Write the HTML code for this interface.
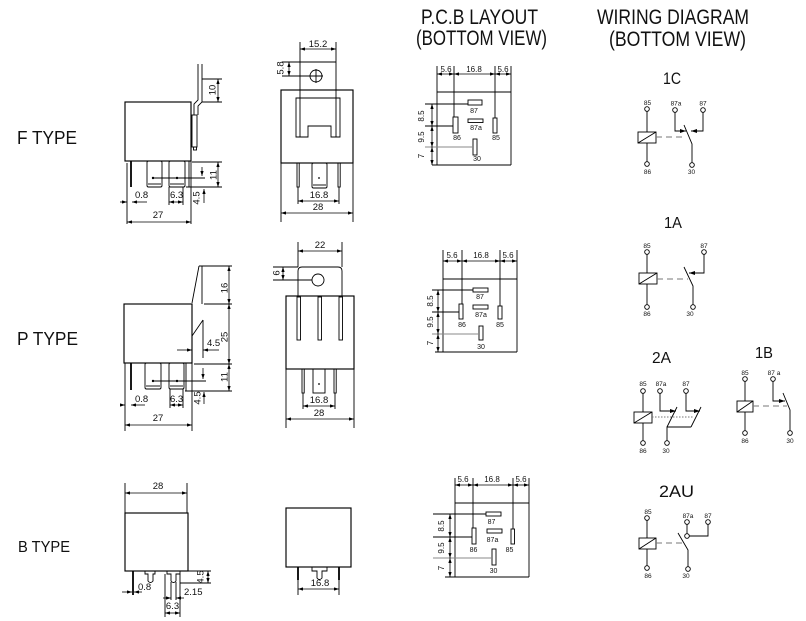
<!DOCTYPE html>
<html><head><meta charset="utf-8">
<style>
html,body{margin:0;padding:0;background:#fff}
svg{display:block}
text{font-family:"Liberation Sans",sans-serif;fill:#111}
.b{stroke:#000;stroke-width:1.15;fill:none}
.l{stroke:#000;stroke-width:.9;fill:none}
.g{stroke:#888;stroke-width:.9;fill:none}
.dm{stroke:#000;stroke-width:.8;fill:none;marker-start:url(#a);marker-end:url(#a)}
.de{stroke:#000;stroke-width:.8;fill:none;marker-end:url(#a)}
.we{stroke:#000;stroke-width:.9;fill:none;marker-end:url(#w)}
.ds{stroke:#777;stroke-width:1.1;fill:none;stroke-dasharray:6,4}
.tc{fill:#fff;stroke:#000;stroke-width:.9}
.s9{font-size:9.5px}
.s8{font-size:8px}
.s7{font-size:7px}
.s6{font-size:6.5px}
.m{text-anchor:middle}
</style></head>
<body>
<svg width="806" height="621" viewBox="0 0 806 621" xmlns="http://www.w3.org/2000/svg">
<defs>
<marker id="a" viewBox="0 0 6 4" refX="6" refY="2" markerWidth="5" markerHeight="3.4" orient="auto-start-reverse" markerUnits="userSpaceOnUse"><path d="M0,0L6,2L0,4z" fill="#000"/></marker>
<marker id="w" viewBox="0 0 6 4" refX="6" refY="2" markerWidth="6" markerHeight="4" orient="auto" markerUnits="userSpaceOnUse"><path d="M0,0L6,2L0,4z" fill="#000"/></marker>
</defs>

<!-- Titles -->
<text x="421" y="24" font-size="21" textLength="117" lengthAdjust="spacingAndGlyphs">P.C.B LAYOUT</text>
<text x="416" y="45" font-size="21" textLength="131" lengthAdjust="spacingAndGlyphs">(BOTTOM VIEW)</text>
<text x="597" y="24" font-size="21" textLength="152" lengthAdjust="spacingAndGlyphs">WIRING DIAGRAM</text>
<text x="609" y="46" font-size="21" textLength="137" lengthAdjust="spacingAndGlyphs">(BOTTOM VIEW)</text>

<!-- Type labels -->
<text x="17" y="144" font-size="18" textLength="60" lengthAdjust="spacingAndGlyphs">F TYPE</text>
<text x="17" y="345" font-size="18" textLength="61" lengthAdjust="spacingAndGlyphs">P TYPE</text>
<text x="18" y="552" font-size="16" textLength="52" lengthAdjust="spacingAndGlyphs">B TYPE</text>

<!-- ================= F TYPE SIDE ================= -->
<rect class="b" x="125" y="102" width="66" height="59"/>
<path class="l" d="M198,64 V100 L194,104 V115 M202,64 V102 L198,106 V115"/>
<rect class="l" x="192" y="115" width="5" height="32"/>
<rect class="l" x="193.5" y="147" width="3" height="3"/>
<path class="l" d="M202,79 H222 M202,102 H222"/>
<path class="dm" d="M218,79 V102"/>
<text class="s9 m" transform="translate(215.5,90) rotate(-90)">10</text>
<!-- pins -->
<path stroke="#000" stroke-width="1.8" d="M131,161 V187"/>
<path class="l" d="M127,163 V224 M191,161 V224 M189,161 V187"/>
<rect class="l" x="147" y="161" width="15" height="26" rx="1.5"/>
<path class="l" d="M148,184 H161"/>
<rect class="l" x="169" y="161" width="16" height="26" rx="1.5"/>
<path class="l" d="M170,184 H184"/>
<path class="l" d="M153,178 H205"/>
<circle cx="153" cy="178" r="1.2" fill="#000"/><circle cx="177" cy="178" r="1.2" fill="#000"/>
<path class="de" d="M202,167 V176"/>
<path class="l" d="M192,162 H222 M186,187 H222"/>
<path class="dm" d="M218,162 V187"/>
<text class="s9 m" transform="translate(216.5,175) rotate(-90)">11</text>
<path class="de" d="M204,203 V189"/>
<text class="s9 m" transform="translate(199.5,198) rotate(-90)">4.5</text>
<path class="de" d="M120,202 H127"/>
<path class="de" d="M147,202 H132"/>
<text class="s9" x="135" y="198">0.8</text>
<path class="l" d="M169,187 V205 M183,187 V205"/>
<path class="dm" d="M169,202 H183"/>
<text class="s9" x="170" y="198">6.3</text>
<path class="dm" d="M127,222 H191"/>
<text class="s9 m" x="158" y="218">27</text>

<!-- ================= F TYPE FRONT ================= -->
<path class="l" d="M300,42 V62 M336,42 V62"/>
<path class="dm" d="M300,49 H336"/>
<text class="s9 m" x="318" y="47">15.2</text>
<path class="l" d="M282,62 H336 M300,62 V137 M336,62 V137"/>
<circle class="l" cx="316" cy="76" r="6"/>
<path class="l" d="M282,76 H323 M316,69 V83"/>
<path class="dm" d="M289,62 V76"/>
<text class="s9 m" transform="translate(283.5,68) rotate(-90)">5.8</text>
<rect class="b" x="281" y="90" width="72" height="73"/>
<path class="l" d="M296,98 H340 V137 H331 V126 H308 V137 H296 Z"/>
<rect class="l" x="297" y="163" width="2.2" height="24"/>
<rect class="l" x="338" y="163" width="2.2" height="24"/>
<rect class="l" x="312" y="163" width="15" height="25" rx="1.5"/>
<path class="l" d="M313,185 H326"/>
<circle cx="319" cy="178" r="0.9" fill="#000"/>
<path class="l" d="M298,187 V204 M339,187 V204"/>
<path class="dm" d="M298,201 H339"/>
<text class="s9 m" x="319" y="198">16.8</text>
<path class="l" d="M281,163 V222 M353,163 V222"/>
<path class="dm" d="M281,213 H353"/>
<text class="s9 m" x="318" y="210">28</text>

<!-- ================= P TYPE SIDE ================= -->
<rect class="b" x="124" y="304" width="68" height="59"/>
<path class="l" d="M199,266 L192,303 M202,266 V304 M203,320 L192,336 M203,320 V358"/>
<path class="l" d="M199,266 H232 M204,304 H232 M194,364 H232 M185,391 H232"/>
<path class="dm" d="M229,266 V304"/>
<path class="dm" d="M229,304 V364"/>
<path class="dm" d="M229,364 V391"/>
<text class="s9 m" transform="translate(227.5,288) rotate(-90)">16</text>
<text class="s9 m" transform="translate(227.5,337) rotate(-90)">25</text>
<text class="s9 m" transform="translate(227.5,377) rotate(-90)">11</text>
<path class="de" d="M177,350 H192"/>
<path class="de" d="M219,350 H203"/>
<text class="s9" x="207" y="346">4.5</text>
<path stroke="#000" stroke-width="1.8" d="M131,363 V390"/>
<path class="l" d="M125,363 V431 M192,363 V431 M186,363 V391"/>
<rect class="l" x="145" y="363" width="16" height="26" rx="1.5"/>
<path class="l" d="M146,386 H160"/>
<rect class="l" x="169" y="363" width="15" height="26" rx="1.5"/>
<path class="l" d="M170,386 H183"/>
<path class="l" d="M153,381 H206"/>
<circle cx="153" cy="381" r="1.2" fill="#000"/><circle cx="177" cy="381" r="1.2" fill="#000"/>
<path class="de" d="M203,368 V379"/>
<path class="de" d="M204,404 V392"/>
<text class="s9 m" transform="translate(200.5,398) rotate(-90)">4.5</text>
<path class="de" d="M120,405 H125"/>
<path class="de" d="M145,405 H131"/>
<text class="s9" x="135" y="402">0.8</text>
<path class="l" d="M170,389 V408 M183,389 V408"/>
<path class="dm" d="M170,405 H183"/>
<text class="s9" x="170" y="402">6.3</text>
<path class="dm" d="M125,425 H192"/>
<text class="s9 m" x="158" y="421">27</text>

<!-- ================= P TYPE FRONT ================= -->
<path class="l" d="M298,242 V267 M342,242 V267"/>
<path class="dm" d="M298,251 H342"/>
<text class="s9 m" x="320" y="248">22</text>
<path class="l" d="M298,296 V271 Q298,267 302,267 H338 Q342,267 342,271 V296"/>
<path class="l" d="M273,267 H298 M273,280 H312"/>
<circle class="l" cx="318" cy="280" r="6"/>
<path class="dm" d="M283,267 V280"/>
<text class="s9 m" transform="translate(279.5,273) rotate(-90)">6</text>
<rect class="b" x="286" y="296" width="68" height="73"/>
<rect class="l" x="297" y="297" width="3.5" height="43"/>
<rect class="l" x="318" y="297" width="3.5" height="43"/>
<rect class="l" x="339" y="297" width="3.5" height="43"/>
<rect class="l" x="302" y="369" width="2.2" height="24"/>
<rect class="l" x="334" y="369" width="2.2" height="24"/>
<rect class="l" x="313" y="369" width="12" height="24"/>
<circle cx="319" cy="384" r="0.9" fill="#000"/>
<path class="l" d="M303,393 V409 M335,393 V409"/>
<path class="dm" d="M303,406 H335"/>
<text class="s9 m" x="319" y="403">16.8</text>
<path class="l" d="M286,369 V428 M354,369 V428"/>
<path class="dm" d="M286,419 H354"/>
<text class="s9 m" x="319" y="416">28</text>

<!-- ================= B TYPE SIDE ================= -->
<path class="l" d="M125,483 V513 M187,483 V513"/>
<path class="dm" d="M125,493 H187"/>
<text class="s9 m" x="158" y="489">28</text>
<rect class="b" x="125" y="513" width="63" height="58"/>
<path stroke="#000" stroke-width="1.8" d="M133,571 V595"/>
<path class="l" d="M145,571 V574 H148 V581 Q150.5,584 153,581 V574 H155 V571"/>
<path class="l" d="M167,571 V574 H171 V581 Q173.5,584 176,581 V574 H180 V571"/>
<path class="l" d="M171,582 V600 M176,582 V600"/>
<path class="de" d="M163,598 H171"/>
<path class="de" d="M184,598 H176"/>
<text class="s9" x="184" y="595">2.15</text>
<path class="l" d="M165,574 V617 M180,574 V617"/>
<path class="dm" d="M165,613 H180"/>
<text class="s9 m" x="172.5" y="609">6.3</text>
<path class="de" d="M122,592 H132"/>
<path class="de" d="M142,592 H134"/>
<text class="s9" x="138" y="590">0.8</text>
<path class="l" d="M188,571 H211 M180,583 H211"/>
<path class="dm" d="M208,571 V583"/>
<text class="s9 m" transform="translate(203.5,577) rotate(-90)">4.5</text>

<!-- ================= B TYPE FRONT ================= -->
<rect class="b" x="286" y="508" width="65" height="59"/>
<path stroke="#000" stroke-width="1.8" d="M298,567 V580 M339,567 V580"/>
<path class="l" d="M312,567 V571 H317 V578 Q319.5,581 322,578 V571 H327 V567"/>
<path class="l" d="M298,580 V595 M339,580 V595"/>
<path class="dm" d="M298,589 H339"/>
<text class="s9 m" x="320" y="586">16.8</text>

<!-- ================= PCB F ================= -->
<path class="l" d="M437,66 V165 M437,92 H511 M432,165 H511 M511,66 V165 M454,66 V117 M495,66 V118"/>
<path class="dm" d="M437,74 H454"/><path class="dm" d="M454,74 H495"/><path class="dm" d="M495,74 H511"/>
<text class="s8 m" x="446" y="72">5.6</text>
<text class="s8 m" x="474" y="72">16.8</text>
<text class="s8 m" x="503" y="72">5.6</text>
<rect class="l" x="468" y="100" width="14" height="5"/>
<rect class="l" x="468" y="119" width="15" height="3.5"/>
<rect class="l" x="453" y="117" width="5" height="16"/>
<rect class="l" x="493" y="118" width="4" height="15"/>
<rect class="l" x="473" y="139" width="4" height="16"/>
<path class="l" d="M425,104 H468 M425,126 H453"/>
<path class="g" d="M425,147 H473"/>
<path class="dm" d="M432,104 V126"/><path class="dm" d="M432,126 V147"/><path class="dm" d="M432,147 V165"/>
<text class="s8 m" transform="translate(424,116) rotate(-90)">8.5</text>
<text class="s8 m" transform="translate(424,137) rotate(-90)">9.5</text>
<text class="s8 m" transform="translate(424,156) rotate(-90)">7</text>
<text class="s7 m" x="474" y="113">87</text>
<text class="s7 m" x="476" y="130">87a</text>
<text class="s7 m" x="457" y="140">86</text>
<text class="s7 m" x="496" y="140">85</text>
<text class="s7 m" x="477" y="161">30</text>

<!-- ================= PCB P ================= -->
<path class="l" d="M443,250 V352 M443,279 H517 M517,250 V352 M435,352 H517 M462,250 V304 M500,250 V306"/>
<path class="dm" d="M443,261 H462"/><path class="dm" d="M462,261 H500"/><path class="dm" d="M500,261 H517"/>
<text class="s8 m" x="452" y="258">5.6</text>
<text class="s8 m" x="481" y="258">16.8</text>
<text class="s8 m" x="508" y="258">5.6</text>
<rect class="l" x="473" y="288" width="15" height="4"/>
<rect class="l" x="473" y="305" width="15" height="4"/>
<rect class="l" x="459" y="304" width="4" height="15"/>
<rect class="l" x="498" y="306" width="4" height="13"/>
<rect class="l" x="479" y="326" width="4" height="14"/>
<path class="l" d="M432,290 H473 M432,312 H459"/>
<path class="g" d="M432,334 H479"/>
<path class="dm" d="M438,290 V312"/><path class="dm" d="M438,312 V334"/><path class="dm" d="M438,334 V352"/>
<text class="s8 m" transform="translate(433,301) rotate(-90)">8.5</text>
<text class="s8 m" transform="translate(433,322) rotate(-90)">9.5</text>
<text class="s8 m" transform="translate(433,343) rotate(-90)">7</text>
<text class="s7 m" x="480" y="299">87</text>
<text class="s7 m" x="481" y="317">87a</text>
<text class="s7 m" x="462" y="327">86</text>
<text class="s7 m" x="500" y="327">85</text>
<text class="s7 m" x="481" y="349">30</text>

<!-- ================= PCB B ================= -->
<path class="l" d="M455,478 V577 M455,503 H529 M529,478 V577 M445,577 H529 M473,478 V528 M513,478 V529"/>
<path class="dm" d="M455,485 H473"/><path class="dm" d="M473,485 H513"/><path class="dm" d="M513,485 H529"/>
<text class="s8 m" x="463" y="482">5.6</text>
<text class="s8 m" x="492" y="482">16.8</text>
<text class="s8 m" x="521" y="482">5.6</text>
<rect class="l" x="486" y="512" width="15" height="4"/>
<rect class="l" x="487" y="529" width="15" height="4"/>
<rect class="l" x="472" y="528" width="4" height="16"/>
<rect class="l" x="511" y="529" width="3.5" height="15"/>
<rect class="l" x="492" y="549" width="4" height="16"/>
<path class="l" d="M433,514 H486 M433,537 H472"/>
<path class="g" d="M433,558 H492"/>
<path class="dm" d="M450,514 V537"/><path class="dm" d="M450,537 V558"/><path class="dm" d="M450,558 V577"/>
<text class="s8 m" transform="translate(444,526) rotate(-90)">8.5</text>
<text class="s8 m" transform="translate(444,548) rotate(-90)">9.5</text>
<text class="s8 m" transform="translate(444,568) rotate(-90)">7</text>
<text class="s7 m" x="491.5" y="524">87</text>
<text class="s7 m" x="492.5" y="542">87a</text>
<text class="s7 m" x="473.5" y="552">86</text>
<text class="s7 m" x="509.5" y="552">85</text>
<text class="s7 m" x="493.5" y="573">30</text>

<!-- ================= WIRING 1C ================= -->
<text x="663" y="84" font-size="17" textLength="18" lengthAdjust="spacingAndGlyphs">1C</text>
<path class="l" d="M647,111 V132 M647,143 V162"/>
<rect class="l" x="638" y="132" width="18" height="11"/>
<path class="l" d="M638,143 L656,132"/>
<path class="ds" d="M656,137 H684"/>
<path class="we" d="M675,112 V131 H686"/>
<path class="we" d="M703,112 V131 H691"/>
<path class="l" d="M692,163 V144 L684,125"/>
<circle class="tc" cx="647" cy="109" r="2.3"/>
<circle class="tc" cx="647" cy="164" r="2.3"/>
<circle class="tc" cx="675" cy="110" r="2.3"/>
<circle class="tc" cx="703" cy="110" r="2.3"/>
<circle class="tc" cx="692" cy="165" r="2.3"/>
<text class="s6 m" x="647.5" y="105">85</text>
<text class="s6 m" x="647.5" y="174">86</text>
<text class="s6 m" x="676" y="105.5">87a</text>
<text class="s6 m" x="703" y="105.5">87</text>
<text class="s6 m" x="691.5" y="174">30</text>

<!-- ================= WIRING 1A ================= -->
<text x="664" y="228" font-size="16" textLength="18" lengthAdjust="spacingAndGlyphs">1A</text>
<path class="l" d="M647,254 V273 M647,284 V305"/>
<rect class="l" x="639" y="273" width="18" height="11"/>
<path class="l" d="M639,284 L657,273"/>
<path class="ds" d="M657,279 H688"/>
<path class="we" d="M704,254 V273 H689"/>
<path class="l" d="M693,305 V286 L684,267"/>
<circle class="tc" cx="647" cy="252" r="2.3"/>
<circle class="tc" cx="647" cy="307" r="2.3"/>
<circle class="tc" cx="704" cy="252" r="2.3"/>
<circle class="tc" cx="693" cy="307" r="2.3"/>
<text class="s6 m" x="647" y="248">85</text>
<text class="s6 m" x="647" y="316">86</text>
<text class="s6 m" x="704" y="248">87</text>
<text class="s6 m" x="690" y="316">30</text>

<!-- ================= WIRING 2A ================= -->
<text x="652" y="363" font-size="16" textLength="19" lengthAdjust="spacingAndGlyphs">2A</text>
<path class="l" d="M643,393 V412 M643,423 V441"/>
<rect class="l" x="634" y="412" width="18" height="11"/>
<path class="l" d="M634,423 L652,412"/>
<path stroke="#777" stroke-width="1" fill="none" stroke-dasharray="1.5,1.5" d="M652,417 H694"/>
<path class="we" d="M660,393 V411 H676"/>
<path class="we" d="M686,393 V411 H700"/>
<path class="l" d="M667,441 V427 H691 M667,427 L677,407 M691,427 L701,407"/>
<circle class="tc" cx="643" cy="391" r="2.3"/>
<circle class="tc" cx="643" cy="443" r="2.3"/>
<circle class="tc" cx="660" cy="391" r="2.3"/>
<circle class="tc" cx="686" cy="391" r="2.3"/>
<circle class="tc" cx="667" cy="443" r="2.3"/>
<text class="s6 m" x="643" y="386">85</text>
<text class="s6 m" x="643" y="453">86</text>
<text class="s6 m" x="661" y="386">87a</text>
<text class="s6 m" x="686" y="386">87</text>
<text class="s6 m" x="666" y="453">30</text>

<!-- ================= WIRING 1B ================= -->
<text x="755" y="358" font-size="16" textLength="18" lengthAdjust="spacingAndGlyphs">1B</text>
<path class="l" d="M745,381 V401 M745,412 V431"/>
<rect class="l" x="737" y="401" width="16" height="11"/>
<path class="l" d="M737,412 L753,401"/>
<path class="ds" d="M753,406 H787"/>
<path class="we" d="M773,381 V401 H785"/>
<path class="l" d="M790,431 V410 L783,393"/>
<circle class="tc" cx="745" cy="379" r="2.3"/>
<circle class="tc" cx="745" cy="433" r="2.3"/>
<circle class="tc" cx="773" cy="379" r="2.3"/>
<circle class="tc" cx="790" cy="433" r="2.3"/>
<text class="s6 m" x="745" y="375">85</text>
<text class="s6 m" x="745" y="443">86</text>
<text class="s6 m" x="774" y="375">87 a</text>
<text class="s6 m" x="790" y="443">30</text>

<!-- ================= WIRING 2AU ================= -->
<text x="659" y="497" font-size="17" textLength="35" lengthAdjust="spacingAndGlyphs">2AU</text>
<path class="l" d="M647,520 V538 M647,549 V566"/>
<rect class="l" x="639" y="538" width="17" height="11"/>
<path class="l" d="M639,549 L656,538"/>
<path class="ds" d="M656,543 H684"/>
<path class="l" d="M687,524 V534 M689,536 H708 V524"/>
<path class="l" d="M688,567 V550 L678,533"/>
<circle class="tc" cx="647" cy="518" r="2.3"/>
<circle class="tc" cx="647" cy="568" r="2.3"/>
<circle class="tc" cx="687" cy="522" r="2.3"/>
<circle class="tc" cx="708" cy="522" r="2.3"/>
<circle class="tc" cx="687" cy="536" r="2.3"/>
<circle class="tc" cx="688" cy="569" r="2.3"/>
<text class="s6 m" x="648" y="514">85</text>
<text class="s6 m" x="648" y="578">86</text>
<text class="s6 m" x="688" y="518">87a</text>
<text class="s6 m" x="708" y="518">87</text>
<text class="s6 m" x="686" y="578">30</text>
</svg>
</body></html>
